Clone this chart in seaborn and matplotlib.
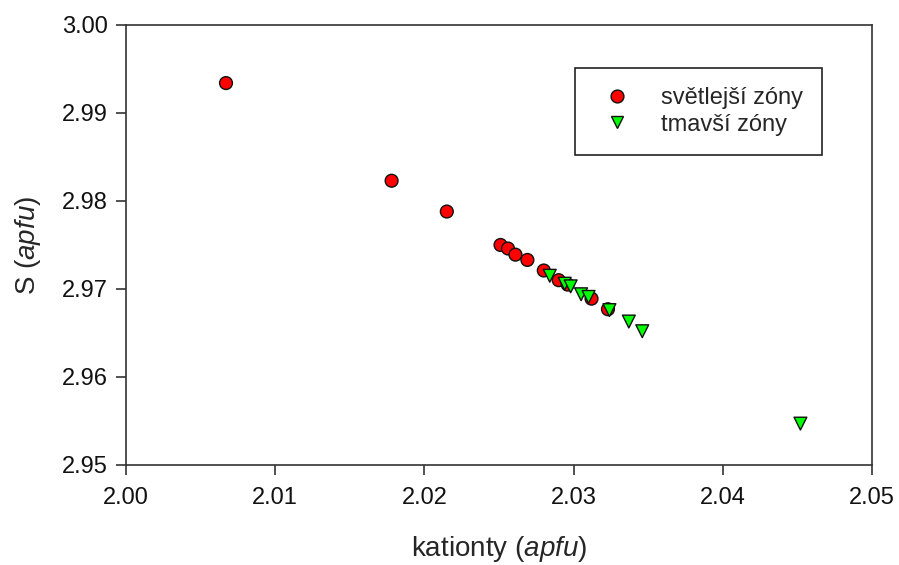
import pandas as pd
import seaborn as sns
import matplotlib.pyplot as plt

# světlejší zóny
light_x = [2.0067, 2.0178, 2.0215, 2.0251, 2.0256, 2.0261, 2.0269, 2.0280,
           2.0290, 2.0296, 2.0312, 2.0323]
light_y = [2.9934, 2.9823, 2.9788, 2.9750, 2.9746, 2.9739, 2.9733, 2.9721,
           2.9710, 2.9705, 2.9689, 2.9677]

# tmavší zóny
dark_x = [2.0284, 2.0294, 2.0298, 2.0305, 2.0310, 2.0324, 2.0337, 2.0346, 2.0452]
dark_y = [2.9715, 2.9706, 2.9703, 2.9694, 2.9691, 2.9676, 2.9663, 2.9652, 2.9547]

labels = ["světlejší zóny", "tmavší zóny"]

df = pd.concat([
    pd.DataFrame({"x": light_x, "y": light_y, "zona": labels[0]}),
    pd.DataFrame({"x": dark_x, "y": dark_y, "zona": labels[1]}),
])

sns.set_style("ticks")
plt.rcParams['font.family'] = ['Liberation Sans', 'DejaVu Sans']
plt.rcParams['mathtext.fontset'] = 'custom'
plt.rcParams['mathtext.it'] = 'Liberation Sans:italic'
plt.rcParams['mathtext.rm'] = 'Liberation Sans'

fig, ax = plt.subplots(figsize=(8.99, 5.65), dpi=100)
fig.subplots_adjust(left=0.1402, right=0.970, top=0.9558, bottom=0.177)

sns.scatterplot(data=df, x="x", y="y", hue="zona", style="zona",
                palette={labels[0]: "#ff0000", labels[1]: "#00ff00"},
                markers={labels[0]: "o", labels[1]: "v"},
                s=85, edgecolor="#111111", linewidth=1.0, ax=ax, zorder=3)

ax.set_xlim(2.00, 2.05)
ax.set_ylim(2.95, 3.00)
ax.set_xticks([2.00, 2.01, 2.02, 2.03, 2.04, 2.05])
ax.set_yticks([2.95, 2.96, 2.97, 2.98, 2.99, 3.00])
ax.xaxis.set_major_formatter(plt.FormatStrFormatter('%.2f'))
ax.yaxis.set_major_formatter(plt.FormatStrFormatter('%.2f'))
ax.tick_params(axis='both', labelsize=17, direction='out', length=7,
               width=1.2, color='#333333', labelcolor='#111111')
ax.tick_params(axis='x', pad=9)
ax.tick_params(axis='y', pad=6)
for sp in ax.spines.values():
    sp.set_linewidth(1.2)
    sp.set_color('#333333')

ax.set_xlabel("kationty ($\\it{apfu}$)", fontsize=20, labelpad=18)
ax.set_ylabel("S ($\\it{apfu}$)", fontsize=20, labelpad=14)

leg = ax.legend(loc="upper right", bbox_to_anchor=(0.933, 0.902),
                fontsize=17, frameon=True, fancybox=False, borderpad=0.8,
                handletextpad=0.85, labelspacing=0.2, borderaxespad=0,
                markerscale=1.0)
leg.get_frame().set_edgecolor('#222222')
leg.get_frame().set_linewidth(1.2)
leg.get_frame().set_alpha(1)

fig.savefig("out.png", dpi=100)
